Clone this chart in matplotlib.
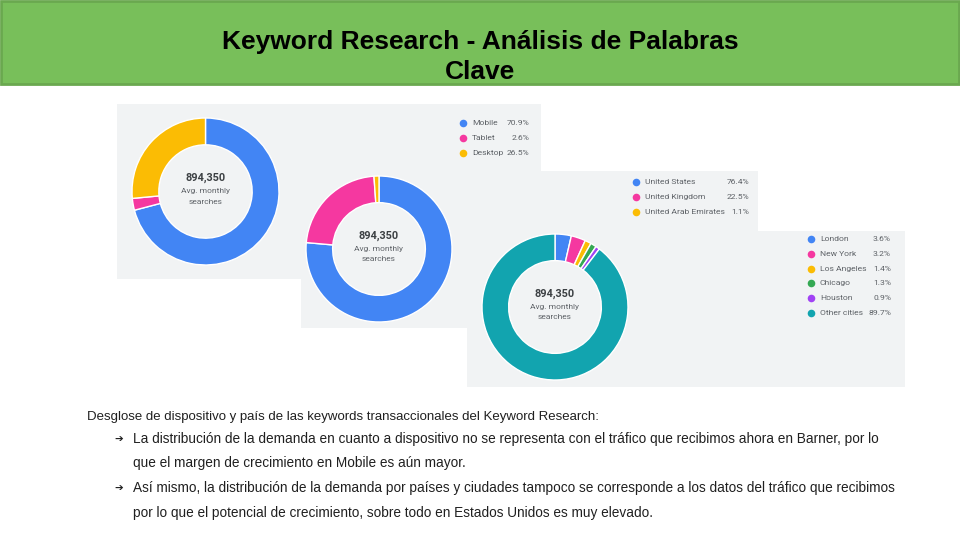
import matplotlib
matplotlib.use("Agg")
import matplotlib.pyplot as plt
from matplotlib.patches import Rectangle

# datos de los tres donuts
dispositivos = ["Mobile", "Tablet", "Desktop"]
dispositivos_pct = [70.9, 2.6, 26.5]

paises = ["United States", "United Kingdom", "United Arab Emirates"]
paises_pct = [76.4, 22.5, 1.1]

ciudades = ["London", "New York", "Los Angeles", "Chicago", "Houston", "Other cities"]
ciudades_pct = [3.6, 3.2, 1.4, 1.3, 0.9, 89.7]

total_busquedas = "894,350"

titulo = ["Keyword Research - Análisis de Palabras", "Clave"]
intro = "Desglose de dispositivo y país de las keywords transaccionales del Keyword Research:"
bullets = [
    ["La distribución de la demanda en cuanto a dispositivo no se representa con el tráfico que recibimos ahora en Barner, por lo",
     "que el margen de crecimiento en Mobile es aún mayor."],
    ["Así mismo, la distribución de la demanda por países y ciudades tampoco se corresponde a los datos del tráfico que recibimos",
     "por lo que el potencial de crecimiento, sobre todo en Estados Unidos es muy elevado."],
]

AZUL = "#4285f4"
ROSA = "#f538a0"
AMARILLO = "#fbbc04"
VERDE = "#34a853"
MORADO = "#a142f4"
TEAL = "#12a4af"
GRIS_PANEL = "#f1f3f4"

W, H = 960, 540
fig = plt.figure(figsize=(9.6, 5.4), dpi=100)
bg = fig.add_axes([0, 0, 1, 1])
bg.set_xlim(0, W)
bg.set_ylim(H, 0)
bg.axis("off")

# cabecera verde
bg.add_patch(Rectangle((1, 1), 958, 83, facecolor="#78bf5a", edgecolor="#6aa84f", lw=2, zorder=1))
bg.text(480, 42, titulo[0], ha="center", va="center", fontsize=19, weight="bold",
        family="Liberation Sans", color="black", zorder=2)
bg.text(480, 72, titulo[1], ha="center", va="center", fontsize=19, weight="bold",
        family="Liberation Sans", color="black", zorder=2)

# paneles grises superpuestos
bg.add_patch(Rectangle((117, 104), 424, 175, facecolor=GRIS_PANEL, edgecolor="none", zorder=1))
bg.add_patch(Rectangle((301, 171), 457, 157, facecolor=GRIS_PANEL, edgecolor="none", zorder=2))
bg.add_patch(Rectangle((467, 231), 438, 156, facecolor=GRIS_PANEL, edgecolor="none", zorder=3))


def crear_donut(cx, cy, r, valores, colores):
    ax = fig.add_axes([(cx - r) / W, 1 - (cy + r) / H, 2 * r / W, 2 * r / H])
    ax.pie(valores, colors=colores, startangle=90, counterclock=False,
           wedgeprops=dict(width=0.365, edgecolor="white", linewidth=1.0))
    ax.set_xlim(-1, 1)
    ax.set_ylim(-1, 1)
    ax.axis("off")
    ax.text(0, 0.18, total_busquedas, ha="center", va="center", fontsize=7.8,
            family="Roboto", weight="bold", color="#3c4043")
    ax.text(0, 0.0, "Avg. monthly", ha="center", va="center", fontsize=6,
            family="Roboto", color="#5f6368")
    ax.text(0, -0.14, "searches", ha="center", va="center", fontsize=6,
            family="Roboto", color="#5f6368")


def crear_leyenda(x_punto, y0, paso, x_pct, nombres, valores, colores, z):
    for i, (n, v, c) in enumerate(zip(nombres, valores, colores)):
        y = y0 + i * paso
        bg.scatter([x_punto], [y], s=30, color=c, zorder=z, linewidths=0)
        bg.text(x_punto + 9, y, n, ha="left", va="center", fontsize=6.1,
                family="Roboto", color="#5f6368", zorder=z)
        bg.text(x_pct, y, f"{v}%", ha="right", va="center", fontsize=6.1,
                family="Roboto", color="#5f6368", zorder=z)


crear_donut(205.5, 191.5, 73.5, dispositivos_pct, [AZUL, ROSA, AMARILLO])
crear_donut(379, 249, 73, paises_pct, [AZUL, ROSA, AMARILLO])
crear_donut(555, 307, 73, ciudades_pct, [AZUL, ROSA, AMARILLO, VERDE, MORADO, TEAL])

crear_leyenda(463, 123, 15, 529, dispositivos, dispositivos_pct, [AZUL, ROSA, AMARILLO], 4)
crear_leyenda(636, 182, 15, 749, paises, paises_pct, [AZUL, ROSA, AMARILLO], 4)
crear_leyenda(811, 239, 14.8, 891, ciudades, ciudades_pct,
              [AZUL, ROSA, AMARILLO, VERDE, MORADO, TEAL], 4)

# texto inferior
fuente = ["Liberation Sans", "DejaVu Sans"]
bg.text(87, 417, intro, ha="left", va="center", fontsize=9.5, family=fuente, color="#202020")
y = 439
for lineas in bullets:
    bg.text(114, y, "➔", ha="left", va="center", fontsize=7.5, family=["DejaVu Sans"], color="#202020")
    for linea in lineas:
        bg.text(133, y, linea, ha="left", va="center", fontsize=9.8, family=fuente, color="#202020")
        y += 24.5

fig.savefig("out.png", dpi=100)
